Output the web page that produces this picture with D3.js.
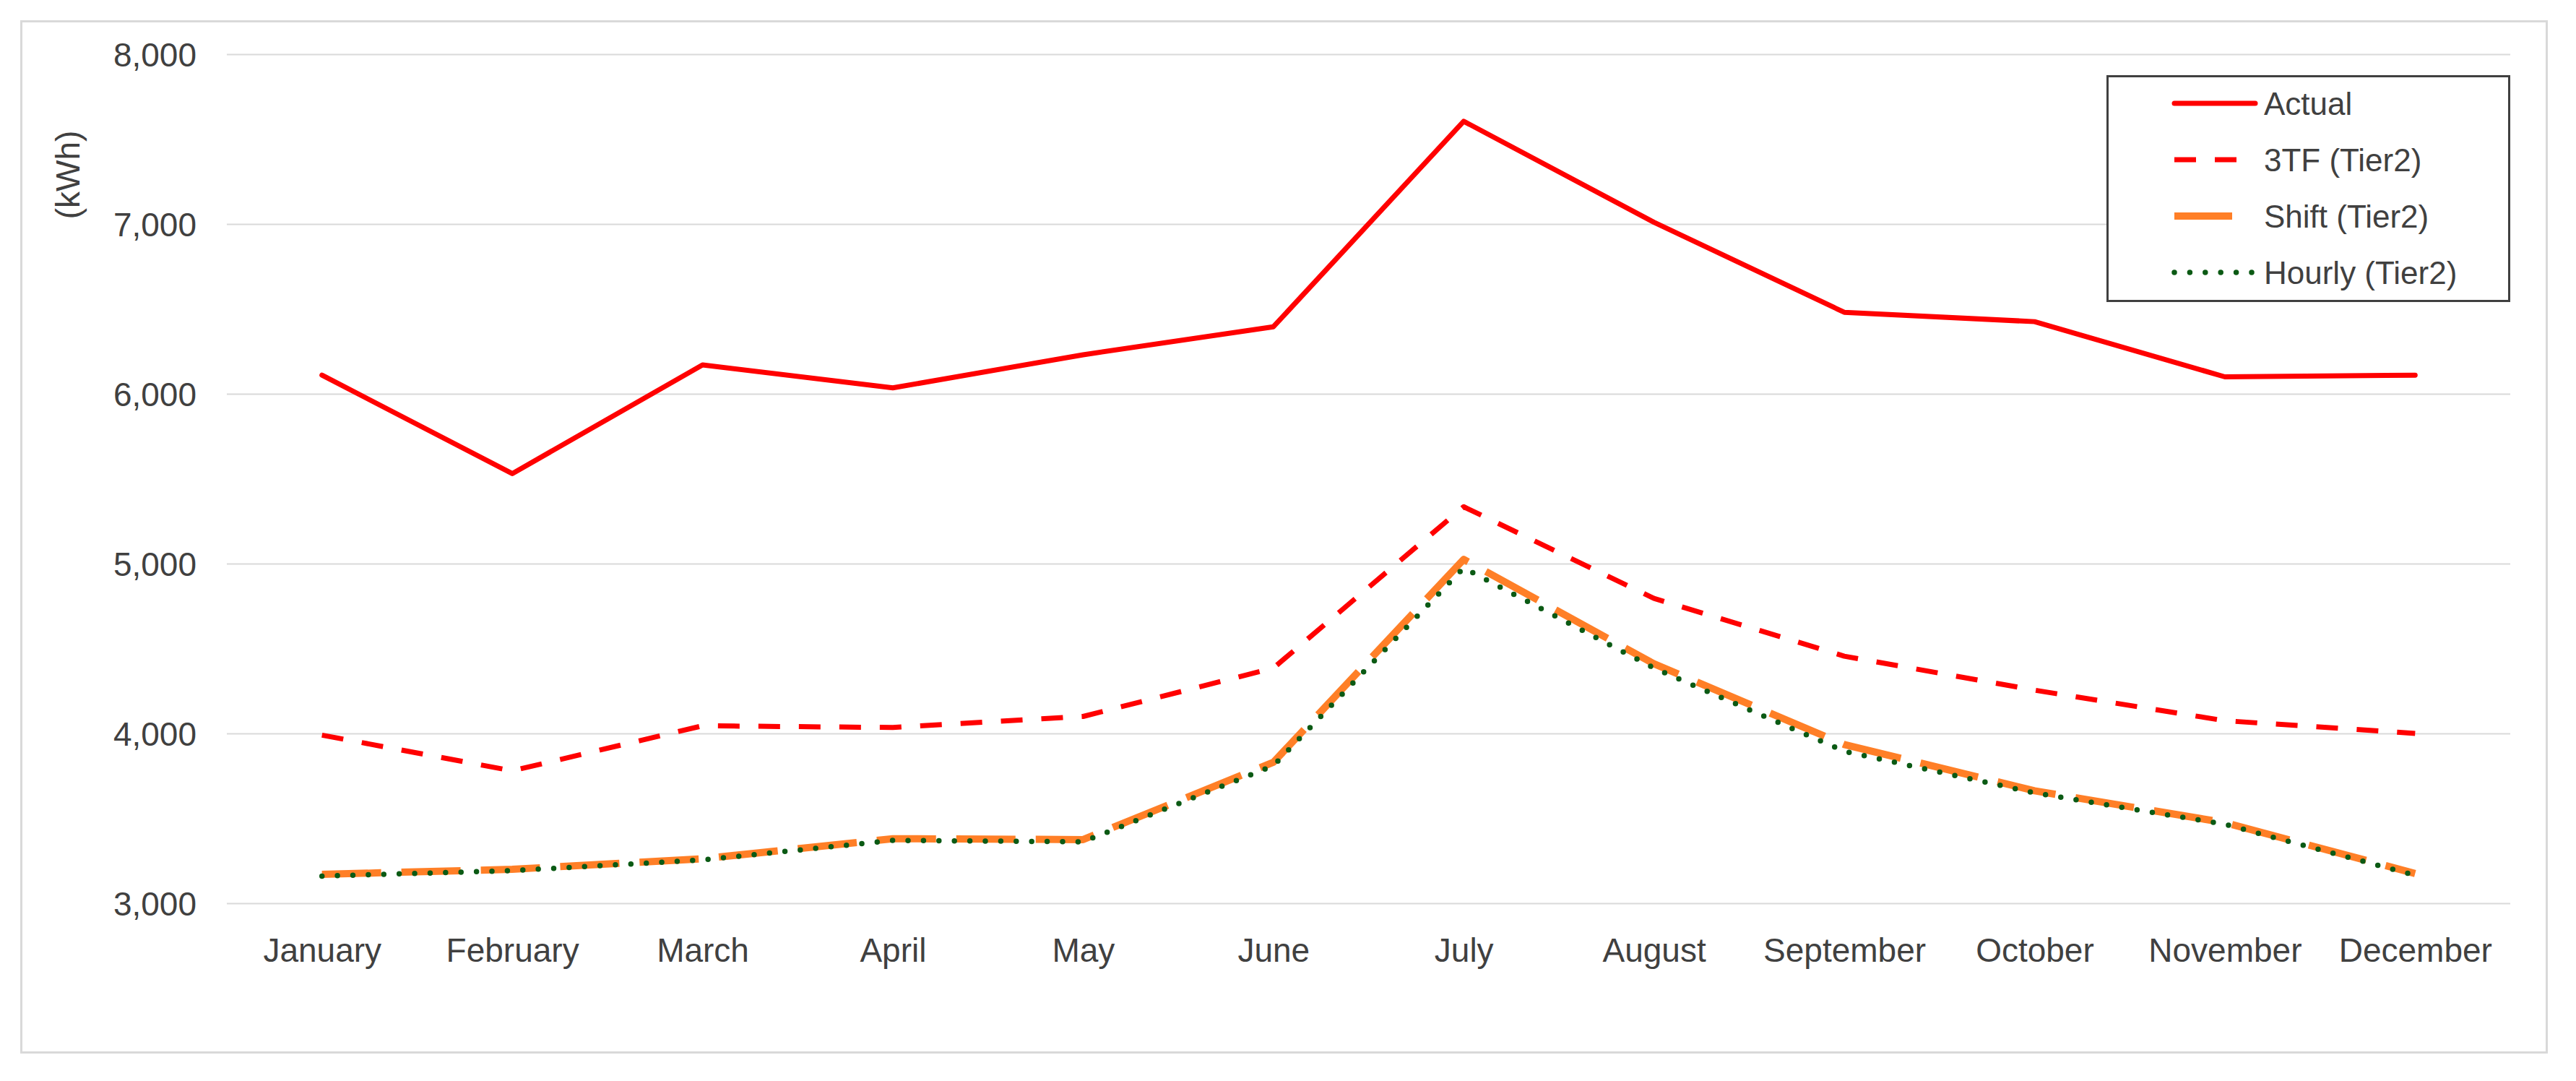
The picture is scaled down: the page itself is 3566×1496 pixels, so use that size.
<!DOCTYPE html>
<html>
<head>
<meta charset="utf-8">
<script src="https://cdn.jsdelivr.net/npm/d3@7"></script>
<style>
  html, body { margin: 0; padding: 0; background: #ffffff; }
  svg { display: block; }
  text { font-family: "Liberation Sans", Arial, sans-serif; fill: #404040; }
</style>
</head>
<body>
<svg id="chart" width="3566" height="1496"></svg>
<script>
const months = ["January","February","March","April","May","June","July","August","September","October","November","December"];
const actual = [6110, 5530, 6170, 6035, 6230, 6395, 7605, 7010, 6480, 6425, 6100, 6110];
const tf3    = [3990, 3780, 4045, 4035, 4100, 4385, 5335, 4795, 4455, 4255, 4075, 4000];
const shift  = [3170, 3200, 3262, 3380, 3375, 3830, 5025, 4410, 3935, 3662, 3475, 3175];
const hourly = [3160, 3192, 3255, 3370, 3362, 3810, 4975, 4385, 3895, 3650, 3465, 3165];
const yTicks = [3000, 4000, 5000, 6000, 7000, 8000];
const seriesNames = ["Actual", "3TF (Tier2)", "Shift (Tier2)", "Hourly (Tier2)"];

const styles = [
  { color: "#ff0000", width: 7, dash: null, cap: "round", legendEnd: 3122 },
  { color: "#ff0000", width: 7, dash: "30,26", cap: "butt", legendEnd: 3100 },
  { color: "#ff7f27", width: 10, dash: "82,28", cap: "butt", legendEnd: 3090 },
  { color: "#0b5a14", width: 7.5, dash: "0,21.4", cap: "round", legendEnd: 3120 }
];
const allSeries = [actual, tf3, shift, hourly];

const svg = d3.select("#chart");

// outer frame
svg.append("rect")
  .attr("x", 29.5).attr("y", 29.5).attr("width", 3496).attr("height", 1427)
  .attr("fill", "#ffffff").attr("stroke", "#d9d9d9").attr("stroke-width", 3);

const x = d3.scalePoint().domain(months).range([314, 3475]).padding(0.5);
const y = d3.scaleLinear().domain([3000, 8000]).range([1250, 75]);

// gridlines + y labels
const yAxis = d3.axisLeft(y).tickValues(yTicks).tickSize(-(3475 - 314)).tickFormat(d3.format(",")).tickPadding(42);
const gy = svg.append("g").attr("transform", "translate(314,0)").call(yAxis);
gy.select(".domain").remove();
gy.selectAll(".tick line").attr("stroke", "#d9d9d9").attr("stroke-width", 2);
gy.selectAll(".tick text").attr("font-size", 46).attr("fill", "#404040")
  .style("font-family", '"Liberation Sans", Arial, sans-serif').attr("dy", "0.35em");

// x axis labels
const xAxis = d3.axisBottom(x).tickSize(0).tickPadding(0);
const gx = svg.append("g").attr("transform", "translate(0,1250)").call(xAxis);
gx.select(".domain").remove();
gx.selectAll(".tick text").attr("font-size", 46).attr("fill", "#404040")
  .style("font-family", '"Liberation Sans", Arial, sans-serif').attr("y", 81).attr("dy", 0);

// y axis title
svg.append("text")
  .attr("transform", "translate(110,242) rotate(-90)")
  .attr("text-anchor", "middle")
  .attr("font-size", 46)
  .text("(kWh)");

// lines
const line = d3.line().x((d, i) => x(months[i])).y(d => y(d));
allSeries.forEach((s, k) => {
  const st = styles[k];
  svg.append("path")
    .datum(s)
    .attr("d", line)
    .attr("fill", "none")
    .attr("stroke", st.color)
    .attr("stroke-width", st.width)
    .attr("stroke-linejoin", "round")
    .attr("stroke-linecap", st.cap)
    .attr("stroke-dasharray", st.dash);
});

// legend
const lg = svg.append("g");
lg.append("rect")
  .attr("x", 2917.5).attr("y", 105.5).attr("width", 556).attr("height", 311)
  .attr("fill", "#ffffff").attr("stroke", "#404040").attr("stroke-width", 3);
const baselines = [159, 237, 315, 393];
seriesNames.forEach((n, k) => {
  const st = styles[k];
  const cy = baselines[k] - 16;
  lg.append("line")
    .attr("x1", 3010).attr("x2", st.legendEnd).attr("y1", cy).attr("y2", cy)
    .attr("stroke", st.color).attr("stroke-width", st.width)
    .attr("stroke-linecap", st.cap).attr("stroke-dasharray", st.dash);
  lg.append("text")
    .attr("x", 3134).attr("y", baselines[k])
    .attr("font-size", 44)
    .text(n);
});
</script>
</body>
</html>
